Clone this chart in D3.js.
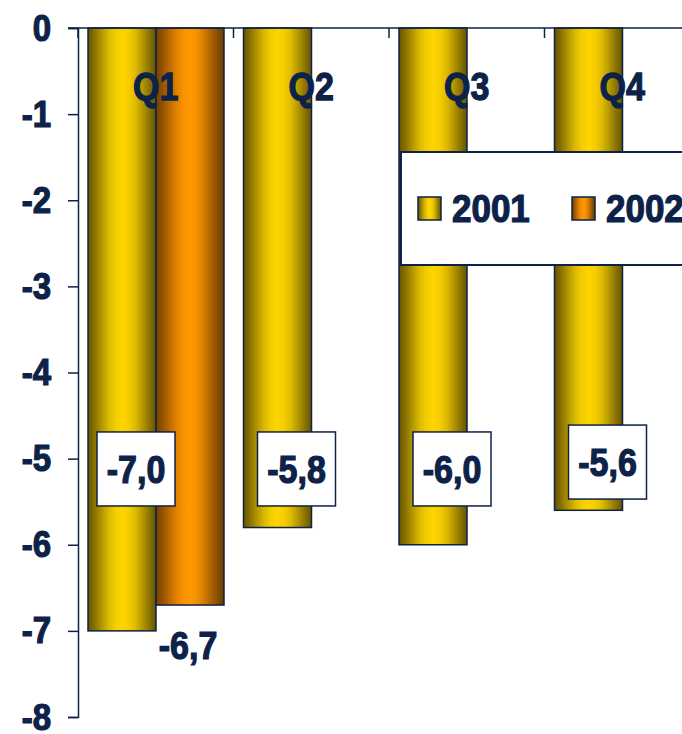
<!DOCTYPE html>
<html>
<head>
<meta charset="utf-8">
<script src="https://cdn.jsdelivr.net/npm/d3@7"></script>
<style>
  body { margin: 0; background: #fff; }
  #graphic text {
    font-family: "Liberation Sans", Arial, sans-serif; font-weight: bold;
    fill: #0c2248; stroke: #0c2248; stroke-width: 1.1px; paint-order: stroke;
  }
</style>
</head>
<body>
<div id="graphic"><div class="chart"></div></div>
<script>
// Data
var quarters   = ["Q1", "Q2", "Q3", "Q4"];
var seriesKeys = ["2001", "2002"];
var values2001 = [-7.0, -5.8, -6.0, -5.6];
var values2002 = [-6.7, null, null, null];
var yTicks     = [0, -1, -2, -3, -4, -5, -6, -7, -8];

(function() {
  var
  container = document.querySelector("#graphic"),
  chart     = container.querySelector(".chart"),
  W = 682, H = 734,
  margin = { top: 28, left: 78, bottom: 17 },
  bandW  = 155.5,
  ink    = "#0c2248"
  ;

  var svg = d3.select(chart).append("svg")
      .attr("width", W)
      .attr("height", H);

  // Gradients: banded cylinder look
  var defs = svg.append("defs");
  var grads = {
    "2001": ["#665400", "#8a7300", "#b39600", "#d8b800", "#f2cd00", "#ffd400", "#f5cd00", "#dcba00", "#b59800", "#8c7500", "#665400"],
    "2002": ["#744000", "#955300", "#bd6a00", "#e28000", "#f89100", "#ff9900", "#f49000", "#d67d00", "#b06500", "#8a4f00", "#6a3b00"]
  };
  seriesKeys.forEach(function(k) {
    var g = defs.append("linearGradient").attr("id", "grad" + k)
      .attr("x1", "0%").attr("x2", "100%").attr("y1", "0%").attr("y2", "0%");
    var cols = grads[k];
    cols.forEach(function(c, i) {
      var off = (i / (cols.length - 1)) * 100;
      g.append("stop").attr("offset", off + "%").attr("stop-color", c);
    });
  });

  // Scales
  var x = d3.scaleBand()
    .domain(quarters)
    .range([margin.left, margin.left + bandW * quarters.length]);

  var xSeries = d3.scaleBand()
    .domain(seriesKeys)
    .range([10, bandW - 9.5]);

  var y = d3.scaleLinear()
    .domain([0, -8])
    .range([margin.top, H - margin.bottom]);

  var rows = quarters.map(function(q, i) {
    return { q: q, v: { "2001": values2001[i], "2002": values2002[i] } };
  });

  // Bars
  var groups = svg.append("g").attr("class", "bars")
    .selectAll("g.bar-group")
      .data(rows)
    .enter().append("g")
      .attr("class", "bar-group")
      .attr("transform", function(d) { return "translate(" + x(d.q) + ",0)"; });

  groups.selectAll("rect")
      .data(function(d) {
        return seriesKeys.filter(function(k) { return d.v[k] != null; })
          .map(function(k) { return { key: k, value: d.v[k] }; });
      })
    .enter().append("rect")
      .attr("x", function(d) { return xSeries(d.key); })
      .attr("y", y(0))
      .attr("width", xSeries.bandwidth())
      .attr("height", function(d) { return y(d.value) - y(0); })
      .attr("fill", function(d) { return "url(#grad" + d.key + ")"; })
      .attr("stroke", ink)
      .attr("stroke-width", 1.5);

  // Y axis
  var yAxis = d3.axisLeft(y).tickValues(yTicks).tickSize(10);
  var ya = svg.append("g")
    .attr("class", "axis")
    .attr("transform", "translate(" + margin.left + ",0)")
    .call(yAxis);
  ya.select(".domain").attr("stroke", ink).attr("stroke-width", 1.5);
  ya.selectAll(".tick line").attr("stroke", ink).attr("stroke-width", 1.5);
  ya.selectAll(".tick text")
    .attr("x", null).attr("dy", null)
    .style("font-size", "33px")
    .attr("transform", "translate(-27,12) scale(1,1.12)")
    .text(function(d) { return String(d); });

  // Category axis along zero line
  var xAxis = d3.axisBottom(x).tickSize(10).tickSizeOuter(0).tickFormat("");
  var xa = svg.append("g")
    .attr("class", "axis")
    .attr("transform", "translate(0," + y(0) + ")")
    .call(xAxis);
  xa.select(".domain").attr("stroke", ink).attr("stroke-width", 1.5)
    .attr("d", "M" + (margin.left - 10) + ",0H" + (margin.left + bandW * quarters.length));
  xa.selectAll(".tick line").attr("stroke", ink).attr("stroke-width", 1.5)
    .attr("transform", "translate(" + (-bandW / 2) + ",0)");

  // Category labels
  svg.append("g").selectAll("text")
      .data(quarters)
    .enter().append("text")
      .attr("text-anchor", "middle")
      .style("font-size", "34px")
      .attr("transform", function(d) {
        return "translate(" + (x(d) + x.bandwidth() / 2) + "," + 100 + ") scale(1,1.15)";
      })
      .text(function(d) { return d; });

  // Value labels for 2001 (boxed)
  var fmt = function(v) { return d3.format(".1f")(v).replace(".", ",").replace("−", "-"); };
  var labY = -5.12;
  var lab = svg.append("g").selectAll("g.lab")
      .data(rows)
    .enter().append("g")
      .attr("class", "lab")
      .attr("transform", function(d, i) {
        var cx = x(d.q) + xSeries("2001") + xSeries.bandwidth() / 2 + (i == 0 ? 14 : 19);
        var cy = y(d.v["2001"] > -5.7 ? labY + 0.08 : labY);
        return "translate(" + cx + "," + cy + ")";
      });
  lab.append("rect")
    .attr("x", -39).attr("y", -37).attr("width", 78).attr("height", 74)
    .attr("fill", "#fff").attr("stroke", ink).attr("stroke-width", 1.5);
  lab.append("text")
    .attr("text-anchor", "middle")
    .style("font-size", "34px")
    .attr("transform", "translate(0,14) scale(1,1.12)")
    .text(function(d) { return fmt(d.v["2001"]); });

  // Value label for 2002
  svg.append("g").selectAll("text")
      .data(rows.filter(function(d) { return d.v["2002"] != null; }))
    .enter().append("text")
      .attr("text-anchor", "middle")
      .style("font-size", "34px")
      .attr("transform", function(d) {
        return "translate(" + (x(d.q) + xSeries("2002") + xSeries.bandwidth() / 2 - 2) + "," + (y(d.v["2002"]) + 54) + ") scale(1,1.12)";
      })
      .text(function(d) { return fmt(d.v["2002"]); });

  // Legend
  var leg = svg.append("g").attr("transform", "translate(401,152)");
  leg.append("rect")
    .attr("width", 300).attr("height", 113)
    .attr("fill", "#fff").attr("stroke", ink).attr("stroke-width", 2);
  var items = leg.selectAll("g.item")
      .data(seriesKeys)
    .enter().append("g")
      .attr("class", "item")
      .attr("transform", function(d, i) { return "translate(" + (17 + i * 154) + ",45)"; });
  items.append("rect")
    .attr("width", 23).attr("height", 23)
    .attr("fill", function(d) { return "url(#grad" + d + ")"; })
    .attr("stroke", ink).attr("stroke-width", 1.5);
  items.append("text")
    .attr("x", 34)
    .style("font-size", "35px")
    .attr("transform", "translate(0,25) scale(1,1.13)")
    .text(function(d) { return d; });
})();
</script>
</body>
</html>
